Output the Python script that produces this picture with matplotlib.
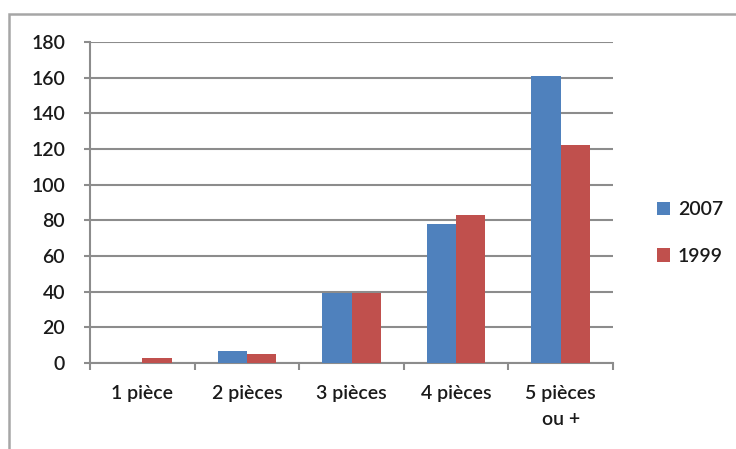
import numpy as np
import matplotlib
matplotlib.use("Agg")
import matplotlib.pyplot as plt
from matplotlib.patches import Rectangle

categories = ["1 pièce", "2 pièces", "3 pièces", "4 pièces", "5 pièces\nou +"]
vals_2007 = [0, 7, 39, 78, 161]
vals_1999 = [3, 5, 39, 83, 122]
yticks = [0, 20, 40, 60, 80, 100, 120, 140, 160, 180]

blue = "#4f81bd"
red = "#c0504d"
grey = "#8c8c8c"
txt = "#1a1a1a"

plt.rcParams["font.family"] = ["Lato", "DejaVu Sans"]
plt.rcParams["font.weight"] = "semibold"

fig = plt.figure(figsize=(7.36, 4.49), dpi=100)
ax = fig.add_axes([90/736, 1 - 363/449, (613 - 90)/736, (363 - 42)/449])

# outer chart frame
fig.patches.append(Rectangle((9/736, -0.2), 1.2, 0.2 + (449 - 14)/449,
                             transform=fig.transFigure, fill=False,
                             edgecolor="#a6a6a6", linewidth=1.8))

x = np.arange(len(categories))
w = 0.28
ax.bar(x - w/2, vals_2007, w, color=blue, label="2007", zorder=3)
ax.bar(x + w/2, vals_1999, w, color=red, label="1999", zorder=3)

ax.set_xlim(-0.5, len(categories) - 0.5)
ax.set_ylim(0, 180)
ax.set_yticks(yticks)
ax.yaxis.grid(True, color=grey, linewidth=1.5, zorder=0)
ax.set_axisbelow(True)

ax.set_xticks(x)
ax.set_xticklabels(categories, fontsize=14, color=txt, linespacing=1.6)
ax.set_xticks(np.arange(len(categories) + 1) - 0.5, minor=True)
ax.tick_params(axis="x", which="major", length=0, pad=16)
ax.tick_params(axis="x", which="minor", length=5, width=1.5, color=grey, direction="out")
ax.tick_params(axis="y", length=4, width=1.5, color=grey, pad=14, labelsize=14,
               labelcolor=txt)

for s in ["top", "right"]:
    ax.spines[s].set_visible(False)
for s in ["left", "bottom"]:
    ax.spines[s].set_color(grey)
    ax.spines[s].set_linewidth(1.5)

leg = ax.legend(loc="center left", bbox_to_anchor=(1.05, 0.405), frameon=False,
                fontsize=14, handlelength=0.7, handleheight=0.7, handletextpad=0.4,
                labelspacing=1.5)
for t in leg.get_texts():
    t.set_color(txt)

fig.savefig("out.png", dpi=100)
